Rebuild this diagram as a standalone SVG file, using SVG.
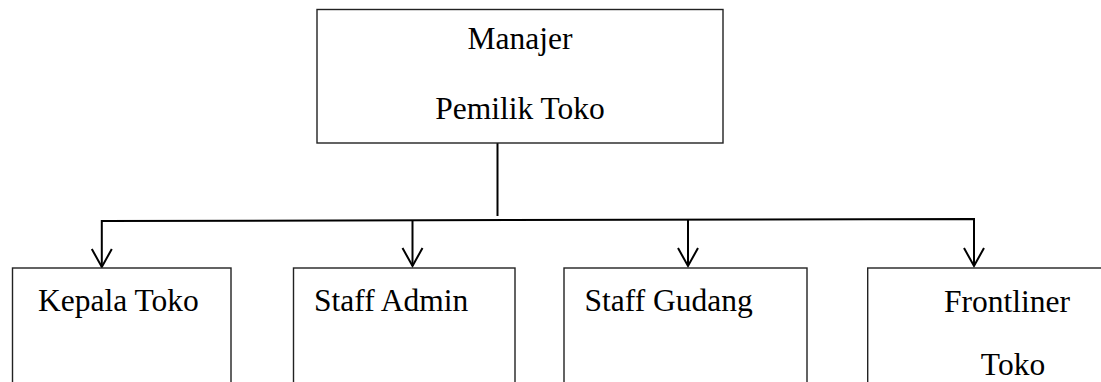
<svg xmlns="http://www.w3.org/2000/svg" width="1101" height="382" viewBox="0 0 1101 382">
  <style>
    .box { fill: #ffffff; stroke: #222222; stroke-width: 1.4; }
    .lbl { font-family: "Liberation Serif", "Times New Roman", Times, serif; font-size: 31.5px; fill: #000000; }
    .mid { text-anchor: middle; }
    .wire { fill: none; stroke: #000000; stroke-width: 2; }
    .head { fill: none; stroke: #000000; stroke-width: 2; }
  </style>

  <rect width="1101" height="382" fill="#ffffff"/>

  <!-- connectors: trunk, bus and four open-vee arrows -->
  <g id="connectors">
    <line class="wire" x1="497.5" y1="143" x2="497.5" y2="216"/>
    <polyline class="wire" points="101.8,267 101.8,221 974,219 974,266"/>
    <line class="wire" x1="412.5" y1="221" x2="412.5" y2="266"/>
    <line class="wire" x1="688" y1="220" x2="688" y2="266"/>
    <polyline class="head" points="91.8,249 101.8,267 111.8,249"/>
    <polyline class="head" points="402.5,248 412.5,266 422.5,248"/>
    <polyline class="head" points="678,248 688,266 698,248"/>
    <polyline class="head" points="964,248 974,266 984,248"/>
  </g>

  <!-- top node -->
  <g id="manajer">
    <rect class="box" x="317" y="9.5" width="406" height="133.5"/>
    <text class="lbl mid" x="520" y="49">Manajer</text>
    <text class="lbl mid" x="520" y="119">Pemilik Toko</text>
  </g>

  <!-- second level -->
  <g id="kepala-toko">
    <rect class="box" x="12.5" y="268" width="218.5" height="140"/>
    <text class="lbl" x="38" y="311">Kepala Toko</text>
  </g>
  <g id="staff-admin">
    <rect class="box" x="293.5" y="268" width="221.5" height="140"/>
    <text class="lbl" x="314" y="311">Staff Admin</text>
  </g>
  <g id="staff-gudang">
    <rect class="box" x="564" y="268" width="243" height="140"/>
    <text class="lbl" x="584.5" y="311">Staff Gudang</text>
  </g>
  <g id="frontliner-toko">
    <rect class="box" x="867.7" y="268" width="300" height="140"/>
    <text class="lbl mid" x="1007" y="312">Frontliner</text>
    <text class="lbl mid" x="1013" y="375">Toko</text>
  </g>
</svg>
